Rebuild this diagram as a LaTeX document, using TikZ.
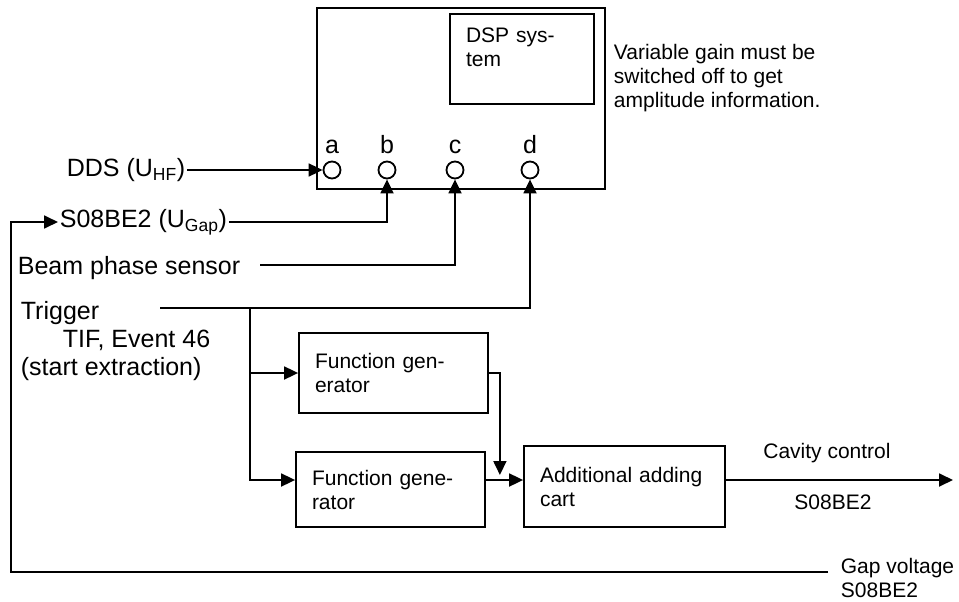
\documentclass[tikz,border=0pt]{standalone}
\usepackage{fontspec}
\setmainfont{Liberation Sans}
\usetikzlibrary{arrows.meta}

\begin{document}
\begin{tikzpicture}[x=1pt,y=-1pt,line width=1.8pt,
    >={Triangle[length=14pt,width=13pt]},
    lbl/.style={font=\fontsize{25}{28}\selectfont,inner sep=1pt},
    note/.style={font=\fontsize{21}{24}\selectfont,inner sep=1pt},
    blk/.style={draw,note,align=left,inner xsep=16pt,inner ysep=0pt},
    port/.style={draw,circle,minimum size=17pt,inner sep=0pt},
    portlbl/.style={lbl,inner sep=6pt}]
        \useasboundingbox (0,0) rectangle (959,602);
        \node[blk,minimum width=288pt,minimum height=181pt] (unit) at (461,98.5) {};
        \node[blk,text width=112pt,minimum height=90pt] (dsp) at (522,59) {DSP sys-\\tem\\\mbox{}};
        \node[blk,text width=157pt,minimum height=80pt] (fgone) at (393.5,373) {Function gen-\\erator};
        \node[blk,text width=157pt,minimum height=75pt] (fgtwo) at (390.5,489.5) {Function gene-\\rator};
        \node[blk,text width=169pt,minimum height=81pt] (adder) at (624.5,486.5) {Additional adding\\cart};
        \foreach \p/\x in {a/332,b/387,c/455,d/530} {
          \node[port,label={[portlbl]above:\p}] (p\p) at (\x,170) {};
        }
        \node[lbl,anchor=east] (dds) at (187,170) {DDS (U\textsubscript{HF})};
        \node[lbl,anchor=west] (gap) at (58,222) {S08BE2 (U\textsubscript{Gap})};
        \node[lbl,anchor=west] (beam) at (16,268) {Beam phase sensor};
        \node[lbl,anchor=north west,align=left] (trig) at (19,299) {Trigger\\\hspace*{42pt}TIF, Event 46\\(start extraction)};
        \node[note,anchor=north west,align=left] (hint) at (612,42) {Variable gain must be\\switched off to get\\amplitude information.};
        \node[note] (cavlbl) at (827,453) {Cavity control};
        \node[note] (cavsig) at (833,502) {S08BE2};
        \node[note,anchor=north west,align=left] (gapv) at (839,556) {Gap voltage\\S08BE2};
        \coordinate (trigin) at (160,308);
        \coordinate (tap) at (250,308);
        \coordinate (sumin) at ([yshift=9.5pt]fgtwo.east);
        \coordinate (sumout) at (sumin -| adder.east);
        \coordinate (ctrlend) at (953,480);
        \coordinate (gapout) at (828,572);
        \coordinate (gapturn) at (11,572);
        \draw[->] (dds.east) -- (pa.west);
        \draw[->] (gap.east) -| (pb.south);
        \draw[->] ([xshift=18pt,yshift=3pt]beam.east) -| (pc.south);
        \draw[->] (trigin) -| (pd.south);
        \draw[->] (tap) |- (sumin -| fgtwo.west);
        \draw[->] (tap |- fgone.west) -- (fgone.west);
        \draw[->] (fgone.east) -| ([xshift=14pt,yshift=5pt]sumin);
        \draw[->] (sumin) -- (sumin -| adder.west);
        \draw[->] (sumout) -- (ctrlend);
        \draw[->] (gapout) -- (gapturn) |- (gap.west);
\end{tikzpicture}
\end{document}
